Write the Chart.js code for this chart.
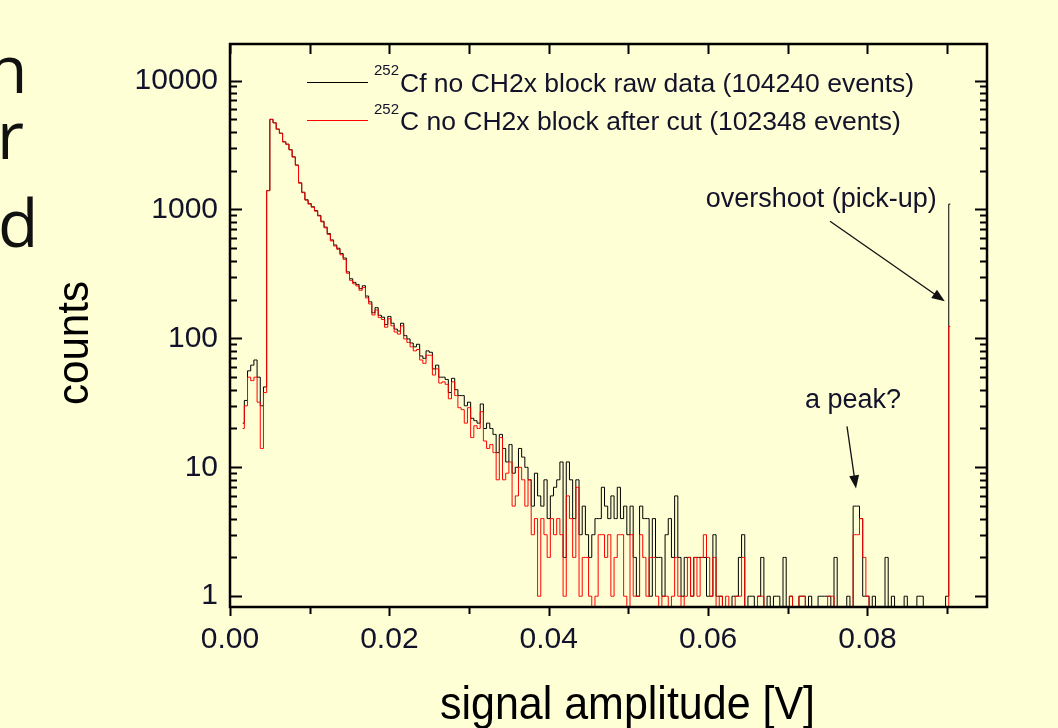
<!DOCTYPE html>
<html>
<head>
<meta charset="utf-8">
<script src="https://cdn.jsdelivr.net/npm/chart.js@4.4.1/dist/chart.umd.min.js"></script>
<style>
  html, body { margin: 0; padding: 0; background: #ffffd5; overflow: hidden; }
  #wrap { position: relative; width: 1058px; height: 728px; }
  #spectrum { position: absolute; left: 0; top: 0; }
  .side { position: absolute; font-family: "Open Sans", sans-serif; font-size: 66px; line-height: 66px; color: #111; }
</style>
</head>
<body>
<div id="wrap">
  <div class="side" style="left:-13px; top:34px">n</div>
  <div class="side" style="left:-3px; top:100px">r</div>
  <div class="side" style="left:-2px; top:188px">d</div>
  <canvas id="spectrum" width="1058" height="728"></canvas>
</div>
<script>
// histogram bins (signal amplitude, V)
var binStart = 0.0016;
var binWidth = 0.0004;

// 252Cf, no CH2x block, raw data
var rawCounts = [
  22, 33, 56, 62, 68, 50, 30, 42, 1400, 5000,
  4700, 4200, 3900, 3350, 3210, 2910, 2560, 2210, 1610, 1360,
  1190, 1110, 1050, 980, 900, 810, 730, 650, 580, 530,
  500, 455, 420, 328, 290, 272, 262, 243, 256, 213,
  192, 158, 173, 151, 146, 128, 148, 131, 118, 114,
  131, 105, 99, 92, 86, 90, 73, 70, 80, 78,
  58, 62, 50, 50, 48, 38, 49, 40, 36, 36,
  30, 32, 24, 23, 22, 31, 20, 22, 20, 18,
  13, 18, 14, 11, 15, 9, 10, 14, 12, 10,
  8, 5, 9, 6, 5, 8, 4, 6, 7, 8,
  11, 2, 11, 8, 4, 8, 3, 5, 3, 2,
  3, 4, 4, 7, 5, 4, 6, 4, 7, 4,
  5, 3, 5, 2, 1, 5, 4, 4, 1, 4,
  2, 2, 1, 3, 4, 2, 6, 2, 1, 2,
  2, 1, 2, 2, 2, 2, 1, 1, 3, 1,
  1, 0, 0, 0, 1, 1, 2, 3, 0, 1,
  1, 0, 1, 2, 0, 1, 0, 1, 1, 0,
  2, 0, 1, 0, 0, 1, 1, 0, 1, 0,
  0, 1, 1, 1, 1, 0, 2, 0, 0, 0,
  1, 0, 5, 5, 4, 1, 1, 0, 1, 0,
  0, 0, 2, 0, 1, 0, 0, 0, 1, 0,
  0, 0, 1, 1, 0, 0, 0, 0, 0, 0,
  0, 1, 1100
];

// 252Cf, no CH2x block, after cut
var cutCounts = [
  20, 30, 50, 47, 50, 32, 14, 38, 1400, 5000,
  4700, 4200, 3900, 3340, 3200, 2900, 2550, 2200, 1600, 1350,
  1180, 1100, 1040, 970, 890, 800, 720, 640, 570, 520,
  490, 445, 410, 320, 282, 265, 255, 236, 248, 206,
  185, 152, 166, 145, 140, 122, 142, 125, 112, 108,
  125, 99, 93, 86, 80, 82, 68, 64, 74, 74,
  52, 58, 45, 46, 44, 34, 46, 36, 29, 28,
  22, 29, 17, 21, 20, 27, 16, 14, 15, 13,
  8, 17, 8, 9, 11, 5, 6, 10, 8, 5,
  8, 3, 4, 1, 4, 3, 2, 4, 3, 4,
  3, 1, 6, 4, 2, 7, 1, 2, 2, 1,
  0, 1, 3, 3, 2, 3, 1, 2, 3, 3,
  1, 0, 3, 1, 1, 3, 2, 1, 2, 2,
  1, 0, 1, 1, 0, 1, 2, 1, 0, 1,
  2, 1, 2, 1, 2, 3, 2, 1, 2, 0,
  1, 0, 1, 0, 0, 1, 1, 2, 0, 0,
  0, 0, 1, 1, 0, 0, 0, 0, 0, 0,
  0, 0, 1, 0, 0, 1, 1, 0, 0, 0,
  0, 0, 0, 0, 1, 1, 0, 0, 0, 0,
  0, 0, 3, 3, 4, 2, 1, 0, 0, 0,
  0, 0, 0, 0, 0, 0, 0, 0, 0, 0,
  0, 0, 0, 0, 0, 0, 0, 0, 0, 0,
  0, 0, 124
];

var legendLabels = ["Cf no CH2x block raw data (104240 events)", "C no CH2x block after cut (102348 events)"];
var isotope = "252";
var yMajorTicks = [1, 10, 100, 1000, 10000];
var xTickValues = [0, 0.01, 0.02, 0.03, 0.04, 0.05, 0.06, 0.07, 0.08, 0.09];

var binCenters = rawCounts.map(function(c, i){ return +(binStart + i * binWidth).toFixed(4); });
// empty bins go below the log axis (clipped), like the original plot
function toPoints(counts) {
    return counts.map(function(c, i){ return {x: binCenters[i], y: c > 0 ? c : 0.5}; });
}

var textColor = '#12122a';
var tickFont = "'Liberation Sans', Arial, sans-serif";

function arrow(ctx, x1, y1, x2, y2) {
    var a = Math.atan2(y2 - y1, x2 - x1), h = 13, w = 5;
    ctx.beginPath();
    ctx.moveTo(x1, y1);
    ctx.lineTo(x2 - h * 0.8 * Math.cos(a), y2 - h * 0.8 * Math.sin(a));
    ctx.stroke();
    ctx.beginPath();
    ctx.moveTo(x2, y2);
    ctx.lineTo(x2 - h * Math.cos(a) + w * Math.sin(a), y2 - h * Math.sin(a) - w * Math.cos(a));
    ctx.lineTo(x2 - h * Math.cos(a) - w * Math.sin(a), y2 - h * Math.sin(a) + w * Math.cos(a));
    ctx.closePath();
    ctx.fill();
}

// frame, inward/outward ticks, legend, notes and axis titles
var decor = {
    id: 'decor',
    afterDraw: function(chart) {
        var ctx = chart.ctx, a = chart.chartArea;
        var xs = chart.scales.x, ys = chart.scales.y;
        ctx.save();
        ctx.strokeStyle = '#000';
        ctx.fillStyle = '#000';

        ctx.lineWidth = 2;
        ys.ticks.forEach(function(t){
            var y = Math.round(ys.getPixelForValue(t.value)) + 0.5;
            var len = yMajorTicks.indexOf(t.value) >= 0 ? 12 : 7;
            ctx.beginPath();
            ctx.moveTo(a.left, y); ctx.lineTo(a.left + len, y);
            ctx.moveTo(a.right, y); ctx.lineTo(a.right - len, y);
            ctx.stroke();
        });
        xs.ticks.forEach(function(t){
            var x = Math.round(xs.getPixelForValue(t.value)) + 0.5;
            var major = Math.round(t.value * 100) % 2 === 0;
            ctx.beginPath();
            ctx.moveTo(x, a.top); ctx.lineTo(x, a.top + 10);
            ctx.moveTo(x, a.bottom); ctx.lineTo(x, a.bottom + (major ? 9 : 7));
            ctx.stroke();
        });

        ctx.lineWidth = 2.5;
        ctx.strokeRect(a.left, a.top, a.right - a.left, a.bottom - a.top);

        // legend
        var rows = [{y: 82, base: 91.5, color: '#000'}, {y: 120, base: 130, color: '#ff0000'}];
        rows.forEach(function(r, i){
            ctx.strokeStyle = r.color;
            ctx.lineWidth = 1;
            ctx.beginPath(); ctx.moveTo(307, r.y + 0.5); ctx.lineTo(368, r.y + 0.5); ctx.stroke();
            ctx.fillStyle = textColor;
            ctx.textAlign = 'left';
            ctx.textBaseline = 'alphabetic';
            ctx.font = "15px " + tickFont;
            ctx.fillText(isotope, 374, r.base - 16.5);
            ctx.font = "26.5px " + tickFont;
            ctx.fillText(legendLabels[i], 400, r.base);
        });

        // notes
        ctx.fillStyle = textColor;
        ctx.font = "27px " + tickFont;
        ctx.textAlign = 'right';
        ctx.fillText('overshoot (pick-up)', xs.getPixelForValue(0.0887), ys.getPixelForValue(1040));
        ctx.textAlign = 'center';
        ctx.fillText('a peak?', xs.getPixelForValue(0.07818), ys.getPixelForValue(28.7));
        ctx.strokeStyle = '#111';
        ctx.fillStyle = '#111';
        ctx.lineWidth = 1.3;
        arrow(ctx, xs.getPixelForValue(0.0753), ys.getPixelForValue(811), xs.getPixelForValue(0.0897), ys.getPixelForValue(194));
        arrow(ctx, xs.getPixelForValue(0.07743), ys.getPixelForValue(20.8), xs.getPixelForValue(0.07856), ys.getPixelForValue(6.86));

        // axis titles (narrow sans)
        ctx.fillStyle = '#000';
        ctx.textAlign = 'left';
        ctx.font = "46px " + tickFont;
        var xt = 'signal amplitude [V]';
        var sx = 375 / ctx.measureText(xt).width;
        ctx.save();
        ctx.translate(440, 719);
        ctx.scale(sx, 1);
        ctx.fillText(xt, 0, 0);
        ctx.restore();

        var yt = 'counts';
        ctx.font = "44px " + tickFont;
        var sy = 124 / ctx.measureText(yt).width;
        ctx.save();
        ctx.translate(88, 343);
        ctx.rotate(-Math.PI / 2);
        ctx.scale(sy, 1);
        ctx.textAlign = 'center';
        ctx.fillText(yt, 0, 0);
        ctx.restore();

        ctx.restore();
    }
};

var ctx = document.getElementById('spectrum');
var spectrumChart = new Chart(ctx, {
    type: 'line',
    data: {
        datasets: [
            {
                label: legendLabels[0],
                data: toPoints(rawCounts),
                borderColor: '#000000',
                borderWidth: 1,
                stepped: 'middle',
                pointRadius: 0,
                fill: false,
                order: 2
            },
            {
                label: legendLabels[1],
                data: toPoints(cutCounts),
                borderColor: '#ff0000',
                borderWidth: 1,
                stepped: 'middle',
                pointRadius: 0,
                fill: false,
                order: 1
            }
        ]
    },
    options: {
        responsive: false,
        animation: false,
        devicePixelRatio: 1,
        layout: { padding: { left: 0, top: 44, right: 71, bottom: 0 } },
        plugins: { legend: { display: false }, tooltip: { enabled: false } },
        scales: {
            x: {
                type: 'linear',
                min: 0,
                max: 0.095,
                afterFit: function(s){ s.height = 121; },
                afterBuildTicks: function(s){ s.ticks = xTickValues.map(function(v){ return {value: v}; }); },
                grid: { display: false, drawTicks: false },
                border: { display: false },
                ticks: {
                    autoSkip: false,
                    maxRotation: 0,
                    padding: 15,
                    color: textColor,
                    font: { family: tickFont, size: 30 },
                    callback: function(v){ return Math.round(v * 100) % 2 === 0 ? v.toFixed(2) : ''; }
                }
            },
            y: {
                type: 'logarithmic',
                min: 0.825,
                max: 19200,
                afterFit: function(s){ s.width = 230; },
                afterBuildTicks: function(s){
                    var t = [];
                    yMajorTicks.forEach(function(d){
                        for (var m = 1; m <= 9; m++) {
                            var v = d * m;
                            if (v >= s.min && v <= s.max) t.push({value: v});
                        }
                    });
                    s.ticks = t;
                },
                grid: { display: false, drawTicks: false },
                border: { display: false },
                ticks: {
                    autoSkip: false,
                    padding: 12,
                    color: textColor,
                    font: { family: tickFont, size: 30 },
                    callback: function(v){ return yMajorTicks.indexOf(v) >= 0 ? String(v) : ''; }
                }
            }
        }
    },
    plugins: [decor]
});
</script>
</body>
</html>
